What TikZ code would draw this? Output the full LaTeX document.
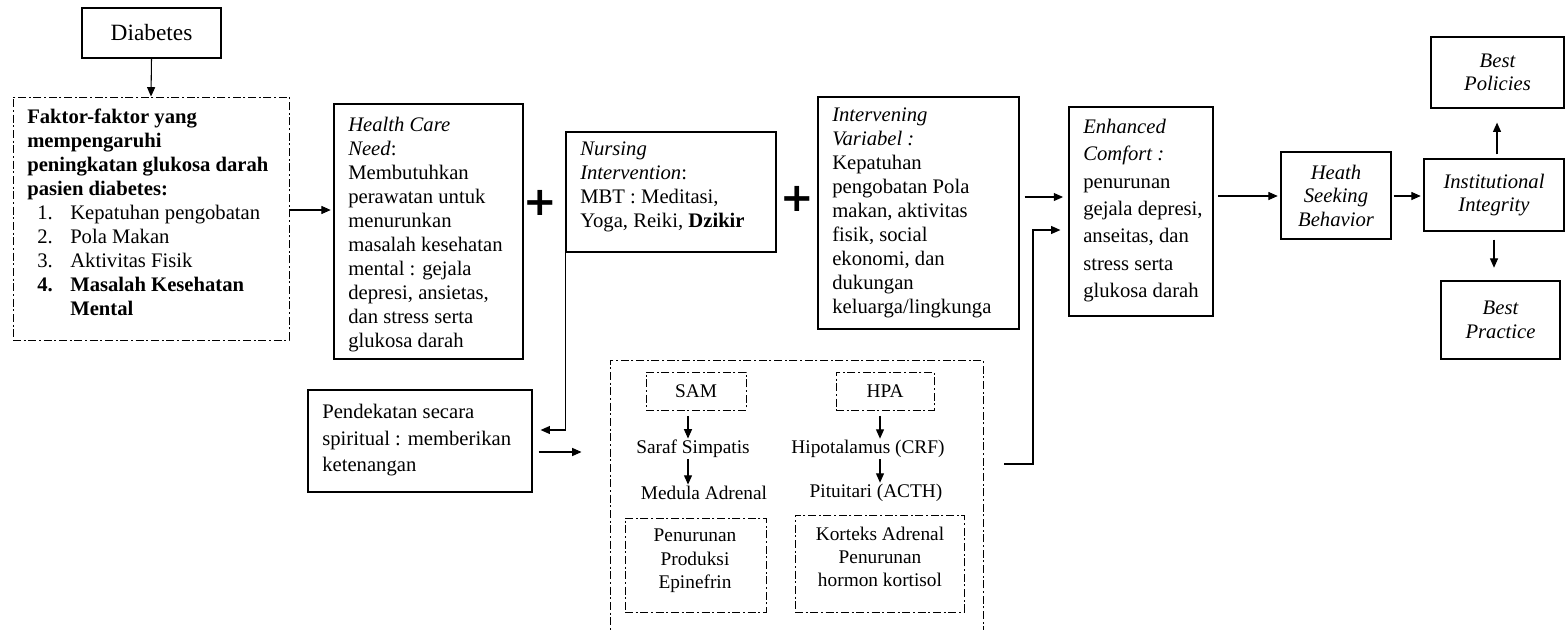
\documentclass[tikz,border=0pt]{standalone}
\usepackage{fontspec}
\setmainfont{Liberation Serif}
\newfontfamily\plusfont{DejaVu Sans}
\usetikzlibrary{arrows.meta,fit,calc}
\begin{document}
\begin{tikzpicture}[x=0.75pt,y=-0.75pt,
 box/.style={draw, line width=0.9pt, inner sep=0pt},
 dbox/.style={draw, line width=0.7pt, inner sep=0pt, dash pattern=on 6pt off 2pt on 1.5pt off 2pt},
 txt/.style={inner sep=0pt, anchor=north west, align=left, font=\fontsize{15.5}{18}\selectfont},
 ctxt/.style={inner sep=0pt, align=center, font=\fontsize{15.5}{17.6}\selectfont\itshape},
 stxt/.style={inner sep=1pt, align=center, font=\fontsize{14.5}{17.5}\selectfont},
 arr/.style={line width=0.8pt, -{Triangle[length=7pt,width=6pt]}},
 plus/.style={font=\plusfont\fontsize{30}{30}\selectfont\bfseries, inner sep=0pt}
]
\useasboundingbox (0,0) rectangle (1565,629);

% top-left
\node[box, fit={(82,8) (221,58)}] (diab) {};
\node[inner sep=0pt, font=\fontsize{17.5}{20}\selectfont] (diabt) at (diab.center) {Diabetes};
\node[dbox, fit={(13,97) (289,340)}] (fak) {};
\node[txt] (fakt) at (27,109) {\textbf{Faktor-faktor yang}\\
\textbf{mempengaruhi}\\
\textbf{peningkatan glukosa darah}\\
\textbf{pasien diabetes:}\\
\hspace*{7.5pt}\makebox[24.75pt][l]{1.}Kepatuhan pengobatan\\
\hspace*{7.5pt}\makebox[24.75pt][l]{2.}Pola Makan\\
\hspace*{7.5pt}\makebox[24.75pt][l]{3.}Aktivitas Fisik\\
\hspace*{7.5pt}\makebox[24.75pt][l]{\textbf{4.}}\textbf{Masalah Kesehatan}\\
\hspace*{32.25pt}\textbf{Mental}};
\draw[arr] (diab.south) -- (fak.north);

% health care need
\node[box, fit={(334,104) (523,359)}] (hcn) {};
\node[txt] (hcnt) at (348,117) {\textit{Health Care}\\
\textit{Need}:\\
Membutuhkan\\
perawatan untuk\\
menurunkan\\
masalah kesehatan\\
mental : gejala\\
depresi, ansietas,\\
dan stress serta\\
glukosa darah};
\coordinate (y210) at (0,210);
\draw[arr] (fak.east |- y210) -- ([xshift=-2pt]hcn.west |- y210);

\node[plus] (plus1) at (540,203) {+};

% nursing intervention
\node[box, fit={(566,132) (776,252)}] (nint) {};
\node[txt] (nintt) at (580,142) {\textit{Nursing}\\
\textit{Intervention}:\\
MBT : Meditasi,\\
Yoga, Reiki, \textbf{Dzikir}};

\node[plus] (plus2) at (797,199) {+};

% intervening variabel
\node[box, fit={(818,97) (1019,329)}] (ivar) {};
\node[txt] (ivart) at (832,108) {\textit{Intervening}\\
\textit{Variabel :}\\
Kepatuhan\\
pengobatan Pola\\
makan, aktivitas\\
fisik, social\\
ekonomi, dan\\
dukungan\\
keluarga/lingkunga};

% enhanced comfort
\node[box, fit={(1069,107) (1213,316)}] (ecom) {};
\node[txt, font=\fontsize{15.5}{20.5}\selectfont] (ecomt) at (1083,119) {\textit{Enhanced}\\
\textit{Comfort :}\\
penurunan\\
gejala depresi,\\
anseitas, dan\\
stress serta\\
glukosa darah};
\coordinate (y197) at (0,197);
\coordinate (y196) at (0,196);
\draw[arr] ([xshift=3.75pt]ivar.east |- y197) -- ([xshift=-4pt]ecom.west |- y197);

% right side
\node[box, fit={(1281,152) (1391,239)}] (hsb) {};
\node[ctxt] (hsbt) at (hsb.center) {Heath\\Seeking\\Behavior};
\node[box, fit={(1424,159) (1564,231)}] (inst) {};
\node[ctxt] (instt) at (inst.center) {Institutional\\Integrity};
\node[box, fit={(1431,37) (1564,108)}] (bpol) {};
\node[ctxt] (bpolt) at (bpol.center) {Best\\Policies};
\node[box, fit={(1441,281) (1560,359)}] (bprac) {};
\node[ctxt] (bpract) at (bprac.center) {Best\\Practice};
\draw[arr] ([xshift=3.5pt]ecom.east |- y196) -- ([xshift=-2pt]hsb.west |- y196);
\draw[arr] ([xshift=1.5pt]hsb.east |- y196) -- ([xshift=-2pt]inst.west |- y196);
\coordinate (x1497) at (1497,0);
\coordinate (x1494) at (1494,0);
\draw[arr] ([yshift=3pt]x1497 |- inst.north) -- ([yshift=-10.5pt]x1497 |- bpol.south);
\draw[arr] ([yshift=-6pt]x1494 |- inst.south) -- ([yshift=9.5pt]x1494 |- bprac.north);

% spiritual approach
\node[box, fit={(308,390) (532,492)}] (pend) {};
\node[txt, font=\fontsize{15.5}{20}\selectfont] (pendt) at (322,404) {Pendekatan secara\\
spiritual : memberikan\\
ketenangan};
\coordinate (y430) at (0,430);
\coordinate (y452) at (0,452);
\draw[arr] (nint.south west) |- ([xshift=6pt]pend.east |- y430);

% stress region
\node[dbox, fit={(610,360) (983,660)}] (stressbox) {};
\draw[arr] ([xshift=4.5pt]pend.east |- y452) -- ([xshift=-21pt]stressbox.west |- y452);

\node[dbox, fit={(646,372) (746,410)}] (sam) {};
\node[stxt] (samt) at (sam.center) {SAM};
\node[dbox, fit={(836,372) (934,410)}] (hpa) {};
\node[stxt] (hpat) at (hpa.center) {HPA};
\node[stxt] (saraf) at (693,449) {Saraf Simpatis};
\node[stxt] (medula) at (704,493) {Medula Adrenal};
\node[stxt] (hipo) at (868,449) {Hipotalamus (CRF)};
\node[stxt] (pit) at (876,493) {Pituitari (ACTH)};
\coordinate (x688) at (688,0);
\coordinate (x880) at (880,0);
\draw[arr] ([yshift=-4pt]x688 |- sam.south) -- (x688 |- saraf.north);
\draw[arr] (x688 |- saraf.south) -- (x688 |- medula.north);
\draw[arr] ([yshift=-4pt]x880 |- hpa.south) -- (x880 |- hipo.north);
\draw[arr] (x880 |- hipo.south) -- (x880 |- pit.north);

\node[dbox, fit={(625,518) (766,612)}] (epi) {};
\node[stxt] (epit) at (695,561) {Penurunan\\Produksi\\Epinefrin};
\node[dbox, fit={(795,515) (964,612)}] (kort) {};
\node[stxt] (kortt) at (880,557) {Korteks Adrenal\\Penurunan\\hormon kortisol};

\coordinate (k1) at (1033,464);
\coordinate (k2) at (1033,230);
\draw[arr] ([xshift=15.75pt]stressbox.east |- k1) -- (k1) -- (k2) -- ([xshift=-6pt]ecom.west |- k2);
\end{tikzpicture}
\end{document}
